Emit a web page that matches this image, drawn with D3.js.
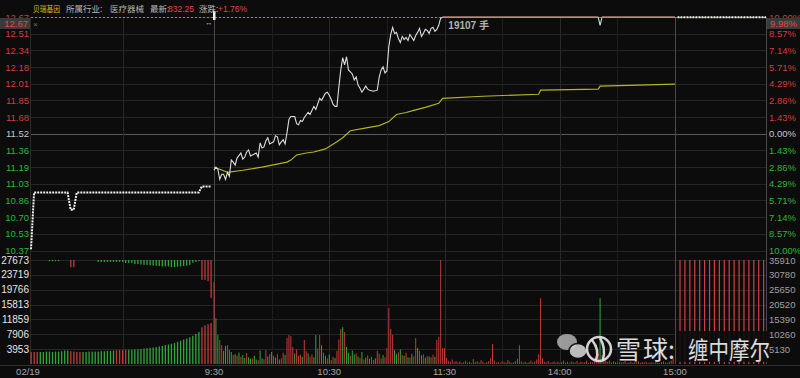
<!DOCTYPE html>
<html>
<head>
<meta charset="utf-8">
<script src="https://cdn.jsdelivr.net/npm/d3@7"></script>
<style>
  body { margin: 0; background: #0c0c0c; }
  svg { display: block; font-family: "Liberation Sans", "Noto Sans CJK SC", sans-serif; }
</style>
</head>
<body>
<svg id="chart" width="800" height="378"></svg>
<script>
// ---- dados ----
const prevClose = 11.52;
const stockName = "贝瑞基因";
const industryLabel = "所属行业:";
const industry = "医疗器械";
const latest = "832.25";
const change = "+1.76%";
const cursorPrice = "12.67";
const cursorPct = "9.98%";
const lotLabel = "19107 手";

const priceTicks = ["12.67","12.51","12.34","12.18","12.01","11.85","11.68","11.52","11.36","11.19","11.03","10.86","10.70","10.53","10.37"];
const pctTicks = [10.00, 8.57, 7.14, 5.71, 4.29, 2.86, 1.43, 0, -1.43, -2.86, -4.29, -5.71, -7.14, -8.57, -10.00];
const volTicksLeft = [27673, 23719, 19766, 15813, 11859, 7906, 3953];
const volTicksRight = [35910, 30780, 25650, 20520, 15390, 10260, 5130];

// slots: 0-60 集合竞价, 60-300 交易分钟 (9:30-11:30, 13:00-15:00), 300+ 盘后
const timeLabels = ["02/19", "9:30", "10:30", "11:30", "14:00", "15:00"];
const timeSlots = [0, 60, 120, 180, 240, 300];
const gridSlots = [30, 60, 90, 120, 150, 180, 210, 240, 270, 300];
const hourSlots = [30, 60, 120, 180, 240, 300];
const strongSlots = [60, 300];

// 集合竞价价格 (60 slots)
const prePrice = [10.38,
  10.94,10.94,10.94,10.94,10.94,10.94,10.94,10.94,10.94,10.94,10.94,10.94,
  10.77,10.77,
  10.94,10.94,10.94,10.94,10.94,10.94,10.94,10.94,10.94,10.94,10.94,10.94,10.94,10.94,
  10.94,10.94,10.94,10.94,10.94,10.94,10.94,10.94,10.94,10.94,10.94,10.94,10.94,10.94,
  10.94,10.94,10.94,10.94,10.94,10.94,10.94,10.94,10.94,10.94,10.94,10.94,10.94,
  11.00,11.00,11.00,11.00];

// 分时价格 [minute, price]
const mainPrice = [[0,11.16],[1,11.19],[2,11.17],[3,11.07],[4,11.12],[5,11.12],[6,11.07],[7,11.14],[8,11.10],[9,11.26],[10,11.24],[11,11.21],[12,11.28],[14,11.33],[15,11.27],[16,11.29],[17,11.34],[18,11.36],[19,11.30],[20,11.31],[22,11.33],[23,11.29],[24,11.43],[25,11.38],[26,11.39],[27,11.45],[28,11.48],[29,11.42],[31,11.44],[32,11.50],[33,11.49],[34,11.41],[35,11.44],[36,11.46],[37,11.42],[38,11.53],[39,11.66],[40,11.69],[42,11.69],[43,11.62],[44,11.61],[45,11.65],[46,11.64],[47,11.68],[49,11.73],[50,11.71],[52,11.79],[53,11.76],[55,11.87],[56,11.85],[58,11.92],[59,11.93],[60,11.90],[61,11.86],[62,11.81],[63,11.79],[64,11.79],[65,11.98],[66,12.15],[67,12.27],[68,12.20],[69,12.28],[70,12.15],[71,12.13],[72,12.11],[73,12.05],[74,12.08],[75,12.00],[76,11.97],[77,11.93],[78,11.96],[79,11.99],[80,11.96],[81,11.95],[83,11.94],[85,11.95],[86,12.08],[87,12.15],[88,12.18],[89,12.12],[90,12.14],[91,12.38],[92,12.50],[93,12.57],[94,12.51],[95,12.52],[96,12.46],[97,12.42],[98,12.48],[99,12.45],[100,12.47],[101,12.44],[102,12.50],[103,12.47],[104,12.44],[105,12.49],[106,12.52],[107,12.56],[108,12.48],[109,12.51],[110,12.55],[111,12.54],[112,12.51],[113,12.56],[114,12.57],[115,12.53],[116,12.55],[117,12.59],[118,12.66],[119,12.67],[200,12.67],[201,12.59],[202,12.67],[240,12.67]];

// 均价线 [minute, price]
const avgPrice = [[0,11.19],[3,11.17],[7,11.14],[15,11.16],[25,11.19],[38,11.24],[40,11.26],[43,11.31],[48,11.33],[52,11.34],[58,11.37],[64,11.44],[67,11.48],[71,11.55],[80,11.58],[86,11.60],[91,11.64],[95,11.71],[100,11.73],[104,11.75],[110,11.78],[117,11.82],[119,11.87],[140,11.89],[169,11.91],[170,11.95],[200,11.96],[201,11.99],[240,12.01]];

// 盘后价格
const afterPrice = [12.67,12.67,12.67,12.67,12.67,12.67,12.67,12.67,12.67,12.67,12.67,12.67,12.67,12.67,12.67,12.67,12.67,12.67,12.67];

// 成交量: 正=红(涨), 负=绿(跌)
const preVol = [3200,3200,3200,-3200,-3200,-3300,-3300,-3200,-3300,-3300,-3400,-3600,-3600,3400,3300,3200,3200,-3200,-3200,-3300,-3300,-3300,-3300,-3400,-3400,-3500,-3500,-3600,3700,3700,3700,3800,-3800,-3800,-3900,-3900,-4000,-4100,-4200,-4300,-4400,-4500,-4700,-4800,-5000,-5200,-5400,-5600,-5900,-6200,-6500,-6800,-7100,-7500,-8000,-8500,9800,10300,10600,10900];
// 集合竞价未匹配量 (自顶部向下)
const preUnmatched = [0,0,0,0,0,0,-300,-300,-300,-300,0,0,0,1900,1900,0,0,0,0,0,0,0,-500,-500,-500,-500,-500,-500,-500,-500,-500,-800,-800,-800,-1100,-1100,-1200,-1300,-1300,-1400,-1500,-1500,-1600,-1700,-1700,-1700,-1900,-1900,-1800,-1700,-1600,-1500,-1300,-700,-500,-300,5300,5300,5600,10100];

const mainVol = [21800,-12200,-7700,6400,5000,-3500,-4800,5000,-3700,-3200,2400,-2600,2200,-3000,1900,-2400,-1600,2900,-1800,-1400,
  1500,-2200,-1200,1000,-3600,-1500,1300,3700,-2000,2600,-3200,2200,-1700,2600,-1200,1500,3000,-2400,6900,7700,
  7400,4500,-2800,3900,2200,2500,-1900,6400,3400,-2800,1900,2600,-1800,-7700,4100,7700,-5000,3000,-2200,1500,
  -2500,1100,1900,-1600,3500,6500,9300,-9800,8500,-4500,-3000,2200,-3600,-2500,2800,-2000,1600,-3200,1200,-1700,
  2300,-1400,1900,1100,-1500,3500,2800,1500,-2400,1800,4200,14900,9300,7700,-3700,-2600,3100,-3900,2400,-2200,
  3000,-1800,1700,-2700,2000,6900,-4300,3500,-2300,2600,-1700,2100,-2000,1800,2500,-1900,6400,7200,30000,4200,
  4200,1600,900,600,1200,500,800,400,700,300,500,900,400,600,300,1300,500,700,400,1000,
  600,300,500,800,1500,5300,900,400,600,300,700,500,400,1100,600,300,500,800,1400,5000,
  700,400,600,300,500,900,400,700,1200,2600,17500,1500,600,400,800,300,500,700,400,600,
  300,500,900,400,600,300,700,500,400,800,300,600,400,500,900,300,600,400,700,1200,
  2800,-17500,2400,1300,800,600,900,400,700,500,300,600,400,500,800,300,400,600,300,500,
  400,700,300,500,400,600,300,400,500,300,600,400,300,500,700,400,300,600,900,1500];

const afterVol = [38000,38500,37000,39000,38200,37500,40000,38800,37200,39500,38000,38600,37800,39200,38400,37600,40500,38900];

// ---- estilo ----
const red = "#d03c3c", green = "#2eb43c", gray = "#c8c8c8";
const barRed = "#c23a3a", barGreen = "#2ea83a";

const svg = d3.select("#chart");
const plotL = 31, plotR = 766;
const priceTop = 17, priceBot = 250.5;
const volTop = 260, volBot = 364;

const x = d3.scaleLinear().domain([0, 60, 300, 318.5]).range([plotL, 214, 675, plotR]);
const y = d3.scaleLinear().domain([prevClose * 0.9, prevClose * 1.1]).range([priceBot, priceTop]);
const yv = d3.scaleLinear().domain([0, 27673]).range([volBot, volTop]).clamp(true);
const yvR = d3.scaleLinear().domain([0, 35910]).range([volBot, volTop]).clamp(true);

svg.append("rect").attr("width", 800).attr("height", 378).attr("fill", "#0c0c0c");

// grade horizontal (preço)
const grid = svg.append("g");
grid.selectAll("line.h").data(pctTicks).join("line")
  .attr("x1", plotL).attr("x2", plotR)
  .attr("y1", d => Math.round(y(prevClose * (1 + d / 100))) + 0.5)
  .attr("y2", d => Math.round(y(prevClose * (1 + d / 100))) + 0.5)
  .attr("stroke", d => d === 0 ? "#5a5a5a" : "#262626");

// grade horizontal (volume)
grid.selectAll("line.v").data(volTicksLeft).join("line")
  .attr("x1", plotL).attr("x2", plotR)
  .attr("y1", d => Math.round(yv(d)) + 0.5)
  .attr("y2", d => Math.round(yv(d)) + 0.5)
  .attr("stroke", "#262626");

// grade vertical
grid.selectAll("line.t").data(gridSlots).join("line")
  .attr("x1", d => Math.round(x(d)) + 0.5).attr("x2", d => Math.round(x(d)) + 0.5)
  .attr("y1", priceTop).attr("y2", volBot)
  .attr("stroke", d => strongSlots.includes(d) ? "#4a4a4a" : hourSlots.includes(d) ? "#282828" : "#1e1e1e");

// bordas
grid.append("line").attr("x1", plotR + 0.5).attr("x2", plotR + 0.5).attr("y1", priceTop).attr("y2", volBot).attr("stroke", "#4a4a4a");
grid.append("line").attr("x1", plotL - 0.5).attr("x2", plotL - 0.5).attr("y1", priceTop).attr("y2", volBot).attr("stroke", "#2a2a2a");
grid.append("line").attr("x1", 0).attr("x2", 800).attr("y1", 365.5).attr("y2", 365.5).attr("stroke", "#2e2e2e");

// linha de limite de alta (pontilhada)
svg.append("line")
  .attr("x1", plotL).attr("x2", plotR)
  .attr("y1", y(prevClose * 1.1) + 0.5).attr("y2", y(prevClose * 1.1) + 0.5)
  .attr("stroke", "#9c8a3c").attr("stroke-dasharray", "2,2");

// ---- volume ----
const vol = svg.append("g");
vol.selectAll("rect.pre").data(preVol).join("rect")
  .attr("x", (d, i) => x(i) - 0.5).attr("width", 1.3)
  .attr("y", d => yv(Math.abs(d))).attr("height", d => volBot - yv(Math.abs(d)))
  .attr("fill", d => d >= 0 ? barRed : barGreen);

vol.selectAll("rect.un").data(preUnmatched).join("rect")
  .attr("x", (d, i) => x(i) - 0.5).attr("width", 1.3)
  .attr("y", volTop)
  .attr("height", d => volBot - yv(Math.abs(d)))
  .attr("fill", d => d >= 0 ? barRed : barGreen);

vol.selectAll("rect.main").data(mainVol).join("rect")
  .attr("x", (d, i) => x(60 + i) - 0.5).attr("width", 1)
  .attr("y", d => yv(Math.abs(d))).attr("height", d => volBot - yv(Math.abs(d)))
  .attr("fill", d => d >= 0 ? barRed : barGreen);

vol.selectAll("rect.after").data(afterVol).join("rect")
  .attr("x", (d, i) => x(301 + i) - 0.5).attr("width", 1.2)
  .attr("y", d => yvR(d)).attr("height", d => volBot - yvR(d))
  .attr("fill", "#d04040");

// ---- preço ----
const line = d3.line().x(d => x(60 + d[0])).y(d => y(d[1]));

svg.append("path")
  .datum(prePrice.map((p, i) => [i, p]))
  .attr("d", d3.line().x(d => x(d[0])).y(d => y(d[1])))
  .attr("fill", "none").attr("stroke", "#f0f0f0").attr("stroke-width", 2)
  .attr("stroke-dasharray", "2,1");

svg.append("path").datum(avgPrice).attr("d", line)
  .attr("fill", "none").attr("stroke", "#b4b41e").attr("stroke-width", 1.2);

svg.append("path").datum(mainPrice).attr("d", line)
  .attr("fill", "none").attr("stroke", "#dcdcdc").attr("stroke-width", 1.1);

// trechos no limite de alta em salmão
const limitSegs = [];
for (let i = 1; i < mainPrice.length; i++) {
  if (mainPrice[i][1] >= 12.67 && mainPrice[i - 1][1] >= 12.67) limitSegs.push([mainPrice[i - 1], mainPrice[i]]);
}
svg.selectAll("path.lim").data(limitSegs).join("path")
  .attr("d", line)
  .attr("fill", "none").attr("stroke", "#d4826a").attr("stroke-width", 1.6);

svg.append("path")
  .datum(afterPrice.map((p, i) => [300.5 + i, p]))
  .attr("d", d3.line().x(d => x(d[0])).y(d => y(d[1])))
  .attr("fill", "none").attr("stroke", "#f0f0f0").attr("stroke-width", 2)
  .attr("stroke-dasharray", "2,1");

// marcadores no topo (9:30)
svg.append("rect").attr("x", x(60) - 1).attr("y", 11).attr("width", 2.5).attr("height", 9).attr("fill", "#eeeeee");
svg.append("text").attr("x", x(60) - 1.5).attr("y", 24.5).attr("text-anchor", "end")
  .attr("font-size", 7).attr("fill", "#dddddd").text("↔");

svg.append("text").attr("x", x(60 + 122)).attr("y", 29)
  .attr("font-size", 10).attr("font-weight", "bold").attr("fill", "#b4b4b4").text(lotLabel);

// ---- eixos ----
const axes = svg.append("g").attr("font-size", 9.5);
axes.selectAll("text.p").data(pctTicks).join("text")
  .attr("x", 29).attr("text-anchor", "end")
  .attr("y", d => y(prevClose * (1 + d / 100)) + 3.5)
  .attr("fill", d => d > 0 ? red : d < 0 ? green : gray)
  .text((d, i) => priceTicks[i]);

axes.selectAll("text.r").data(pctTicks).join("text")
  .attr("x", 769)
  .attr("y", d => y(prevClose * (1 + d / 100)) + 3.5)
  .attr("fill", d => d > 0 ? red : d < 0 ? green : gray)
  .text(d => Math.abs(d).toFixed(2) + "%");

axes.selectAll("text.vl").data(volTicksLeft).join("text")
  .attr("x", 29).attr("text-anchor", "end").attr("font-size", 10)
  .attr("y", d => yv(d) + 3.5).attr("fill", "#e6e6e6").text(d => d);

axes.selectAll("text.vr").data(volTicksRight).join("text")
  .attr("x", 769)
  .attr("y", d => yvR(d) + 3.5).attr("fill", "#a0a0a0").text(d => d);

axes.selectAll("text.t").data(timeSlots).join("text")
  .attr("x", (d, i) => x(d) + (i === 0 ? -3 : 0)).attr("text-anchor", "middle")
  .attr("y", 375).attr("fill", "#a8a8a8")
  .text((d, i) => timeLabels[i]);

// caixas do cursor
svg.append("rect").attr("x", 0).attr("y", 18).attr("width", 30).attr("height", 11).attr("fill", "#3a3a3a");
svg.append("text").attr("x", 28).attr("y", 27).attr("text-anchor", "end").attr("font-size", 9.5).attr("fill", "#e04848").text(cursorPrice);
svg.append("text").attr("x", 33).attr("y", 27).attr("font-size", 8).attr("fill", "#777").text("×");
svg.append("rect").attr("x", 767).attr("y", 18).attr("width", 33).attr("height", 11).attr("fill", "#3a3a3a");
svg.append("text").attr("x", 770).attr("y", 27).attr("font-size", 9.5).attr("fill", "#e04848").text(cursorPct);

// cabeçalho
const head = svg.append("g").attr("font-size", 8.5);
const cjk = "'Noto Sans CJK SC', sans-serif";
head.append("text").attr("x", 33).attr("y", 11.5).attr("font-family", cjk).attr("fill", "#d8c020")
  .attr("textLength", 27).attr("lengthAdjust", "spacingAndGlyphs").text(stockName);
head.append("text").attr("x", 66).attr("y", 11.5).attr("font-family", cjk).attr("fill", "#b8b8b8").text(industryLabel);
head.append("text").attr("x", 110).attr("y", 11.5).attr("font-family", cjk).attr("fill", "#b8b8b8").text(industry);
head.append("text").attr("x", 150).attr("y", 11.5).attr("font-family", cjk).attr("fill", "#b8b8b8").text("最新:");
head.append("text").attr("x", 168).attr("y", 11.5).attr("fill", "#e04848").text(latest);
head.append("text").attr("x", 199).attr("y", 11.5).attr("font-family", cjk).attr("fill", "#b8b8b8").text("涨跌:");
head.append("text").attr("x", 218).attr("y", 11.5).attr("fill", "#e04848").text(change);

// marca d'água
const wm = svg.append("g");
wm.append("rect").attr("x", 676).attr("y", 331).attr("width", 91).attr("height", 31).attr("fill", "#0c0c0c").attr("opacity", 0.9);
wm.append("ellipse").attr("cx", 567).attr("cy", 342).attr("rx", 10).attr("ry", 8).attr("fill", "#b4b4b4").attr("opacity", 0.85);
wm.append("ellipse").attr("cx", 578).attr("cy", 351).attr("rx", 9).attr("ry", 7.5).attr("fill", "#cfcfcf").attr("opacity", 0.9)
  .attr("stroke", "#0c0c0c").attr("stroke-width", 1.5);
wm.append("circle").attr("cx", 599).attr("cy", 349).attr("r", 12).attr("fill", "none").attr("stroke", "#e8e8e8").attr("stroke-width", 2.5).attr("opacity", 0.9);
wm.append("path").attr("d", "M592,340 Q600,350 596,360 M600,338 Q606,348 603,360")
  .attr("fill", "none").attr("stroke", "#e8e8e8").attr("stroke-width", 2.5).attr("opacity", 0.9);
wm.append("text").attr("x", 616).attr("y", 359).attr("font-size", 25).attr("font-family", cjk)
  .attr("fill", "#f2f2f2").attr("opacity", 0.9).attr("textLength", 52).text("雪球");
wm.append("text").attr("x", 668).attr("y", 359).attr("font-size", 25).attr("font-family", cjk)
  .attr("fill", "#f2f2f2").attr("opacity", 0.9).text(":");
wm.append("text").attr("x", 688).attr("y", 359).attr("font-size", 24).attr("font-family", cjk)
  .attr("fill", "#f2f2f2").attr("opacity", 0.9).attr("textLength", 82).attr("lengthAdjust", "spacingAndGlyphs").text("缠中摩尔");
</script>
</body>
</html>
